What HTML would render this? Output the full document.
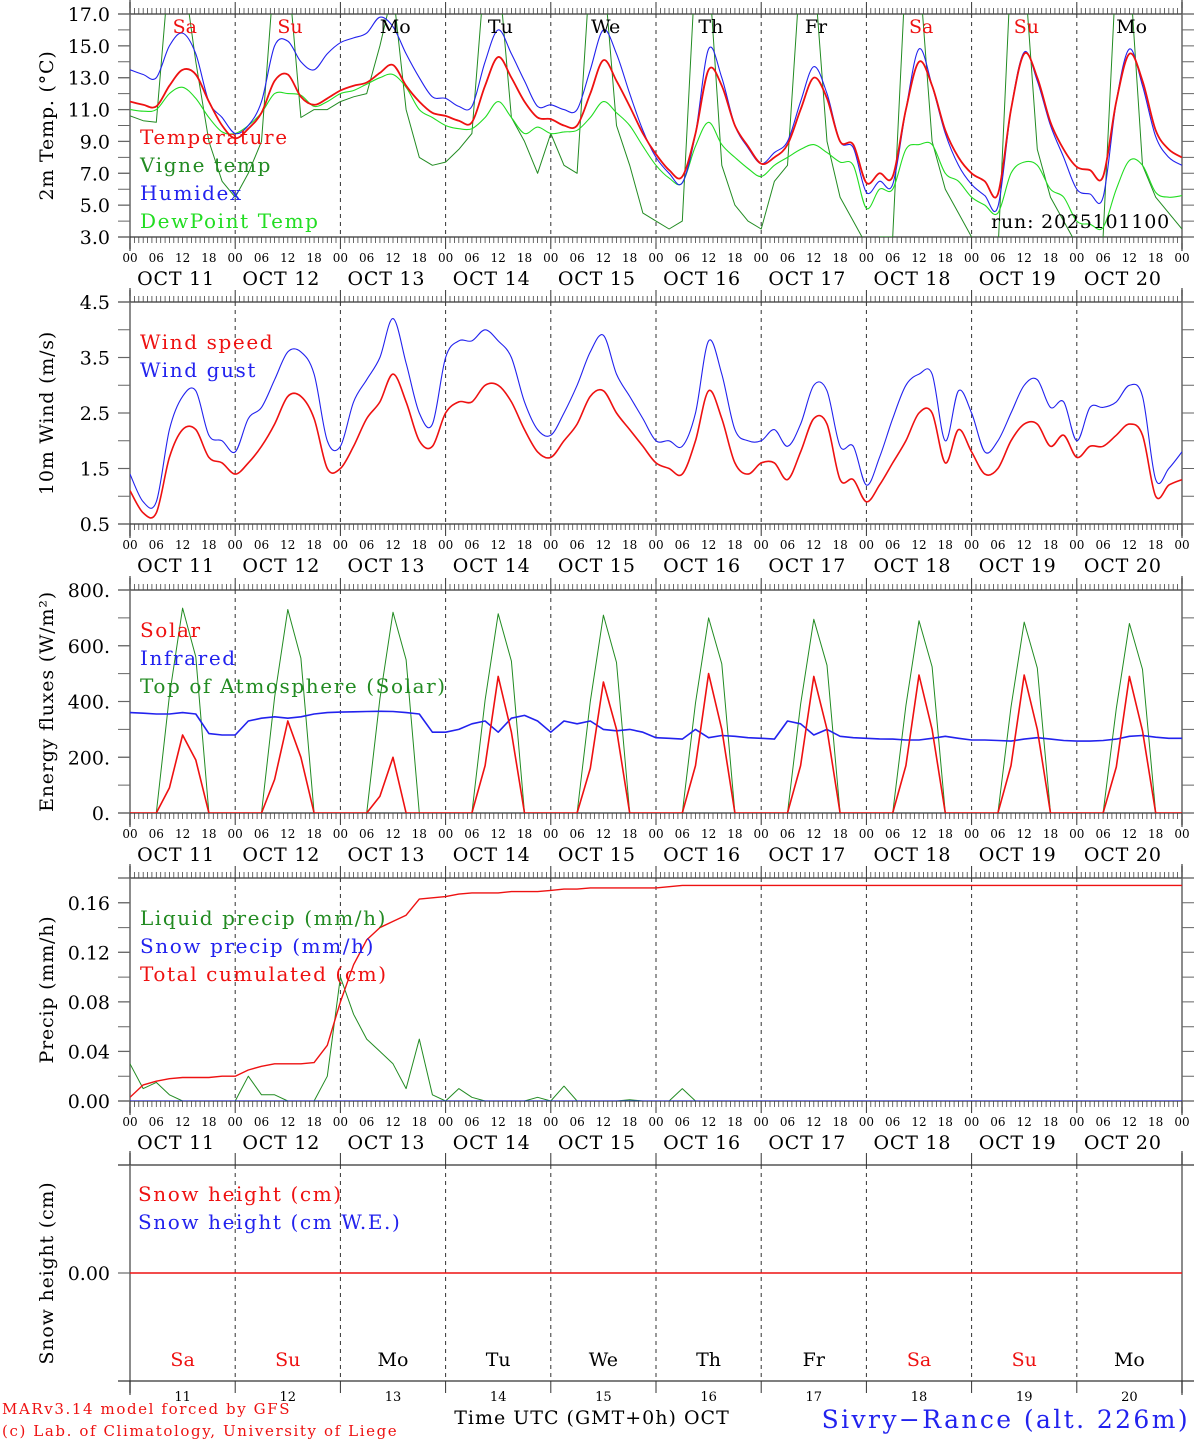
<!DOCTYPE html>
<html><head><meta charset="utf-8">
<style>
html,body{margin:0;padding:0;background:#fff;}
svg{display:block;font-family:"DejaVu Serif","Liberation Serif",serif;}
</style></head>
<body>
<svg id="chart" width="1194" height="1440" viewBox="0 0 1194 1440" xmlns="http://www.w3.org/2000/svg"></svg>
<script>
// ---- data (3-hourly, from 2025-10-11 00 UTC to 2025-10-21 00 UTC) ----
const dayLabels = ["Sa","Su","Mo","Tu","We","Th","Fr","Sa","Su","Mo"];
const dayNums = ["11","12","13","14","15","16","17","18","19","20"];
const hourTicks = ["00","06","12","18"];
const tempVals = [11.5,11.3,11.2,12.5,13.5,13.2,11.5,10.0, 9.2,9.8,10.8,12.8,13.2,11.8,11.3,11.7, 12.2,12.5,12.7,13.3,13.8,12.5,11.5,10.8, 10.6,10.3,10.2,12.5,14.3,13.0,11.5,10.5, 10.4,10.0,10.0,12.0,14.1,12.8,11.2,9.5, 8.2,7.2,6.8,9.5,13.5,12.5,10.0,8.7, 7.6,8.0,8.8,11.0,13.0,11.7,9.0,8.8, 6.4,7.0,6.8,11.0,14.0,12.5,9.7,8.0, 7.0,6.5,5.7,11.0,14.5,13.0,10.2,8.5, 7.4,7.2,6.8,11.5,14.5,12.8,9.7,8.5, 8.0];
const humidexVals = [13.5,13.2,13.0,15.0,15.8,14.5,11.5,10.5, 9.5,10.0,11.5,15.0,15.3,14.0,13.5,14.5, 15.2,15.5,15.8,16.8,16.2,14.5,13.0,11.8, 11.7,11.2,11.2,14.0,16.0,14.5,12.8,11.2, 11.3,11.0,11.0,13.5,16.0,14.5,12.0,9.7, 8.0,7.0,6.4,9.5,14.8,13.0,10.0,8.6, 7.6,8.3,9.0,11.5,13.7,12.0,9.0,8.6, 5.8,6.5,6.3,11.0,14.8,12.5,9.5,7.5, 6.3,5.6,4.9,11.0,14.6,12.8,10.0,8.0, 6.0,5.7,5.5,11.5,14.8,12.5,9.3,8.0, 7.5];
const dewVals = [11.0,10.9,11.0,12.0,12.4,11.7,10.5,9.6, 9.5,10.0,10.8,12.0,12.0,11.9,11.2,11.5, 12.0,12.2,12.6,13.0,13.2,12.4,11.0,10.5, 10.0,9.8,9.8,10.5,11.5,10.5,9.5,9.9, 9.5,9.6,9.7,10.5,11.5,10.8,10.0,8.7, 7.5,6.7,6.4,8.7,10.2,8.8,8.0,7.3, 6.8,7.5,8.0,8.5,8.8,8.3,7.7,7.5, 4.8,6.0,6.0,8.5,8.8,8.8,7.0,6.5, 5.5,5.0,4.5,7.0,7.7,7.5,6.0,5.5, 4.0,3.8,3.6,6.0,7.8,7.5,5.8,5.5, 5.6];
const vigneVals = [10.6,10.3,10.2,20,20,14,9.0,6.5, 5.5,7.0,9.0,20,20,10.5,11.0,11.0, 11.5,11.8,12.0,15.0,18.5,11.0,8.0,7.5, 7.7,8.5,9.5,20,20,10.5,9.0,7.0, 9.5,7.5,7.0,20,20,10.0,7.5,4.5, 4.0,3.5,4.0,20,20,7.5,5.0,4.0, 3.5,6.5,7.5,20,20,9.0,5.5,4.0, 2.5,3.0,3.0,20,20,9.0,6.0,4.5, 3.0,2.0,2.0,20,20,8.5,5.5,4.0, 2.5,2.8,3.0,20,20,7.5,5.5,4.5, 3.5];
const windVals = [1.1,0.7,0.7,1.7,2.2,2.2,1.7,1.6, 1.4,1.6,1.9,2.3,2.8,2.8,2.4,1.5, 1.5,1.9,2.4,2.7,3.2,2.7,2.0,1.9, 2.5,2.7,2.7,3.0,3.0,2.7,2.2,1.8, 1.7,2.0,2.3,2.8,2.9,2.5,2.2,1.9, 1.6,1.5,1.4,2.0,2.9,2.4,1.6,1.4, 1.6,1.6,1.3,1.8,2.4,2.3,1.3,1.3, 0.9,1.2,1.6,2.0,2.5,2.5,1.6,2.2, 1.8,1.4,1.5,2.0,2.3,2.3,1.9,2.1, 1.7,1.9,1.9,2.1,2.3,2.1,1.0,1.2, 1.3];
const gustVals = [1.4,0.9,0.9,2.2,2.8,2.9,2.1,2.0, 1.8,2.4,2.6,3.1,3.6,3.6,3.2,2.0, 1.9,2.7,3.1,3.5,4.2,3.4,2.5,2.3, 3.5,3.8,3.8,4.0,3.8,3.5,2.7,2.2, 2.1,2.5,3.0,3.6,3.9,3.2,2.8,2.4, 2.0,2.0,1.9,2.5,3.8,3.2,2.2,2.0, 2.0,2.2,1.9,2.3,3.0,2.9,1.9,1.9, 1.2,1.7,2.4,3.0,3.2,3.2,2.0,2.9, 2.5,1.8,2.0,2.5,3.0,3.1,2.6,2.7, 2.0,2.6,2.6,2.7,3.0,2.8,1.3,1.5, 1.8];
const solarVals = [0,0,0,90,280,190,0,0, 0,0,0,120,330,200,0,0, 0,0,0,60,200,0,0,0, 0,0,0,170,490,290,0,0, 0,0,0,160,470,300,0,0, 0,0,0,170,500,300,0,0, 0,0,0,170,490,300,0,0, 0,0,0,170,495,300,0,0, 0,0,0,170,495,300,0,0, 0,0,0,165,490,295,0,0, 0];
const toaVals = [0,0,0,420,735,560,0,0, 0,0,0,415,730,555,0,0, 0,0,0,410,720,550,0,0, 0,0,0,405,715,545,0,0, 0,0,0,400,710,540,0,0, 0,0,0,395,700,535,0,0, 0,0,0,390,695,530,0,0, 0,0,0,385,690,525,0,0, 0,0,0,380,685,520,0,0, 0,0,0,375,680,515,0,0, 0];
const irVals = [360,358,355,355,360,355,285,280, 280,330,340,345,340,345,355,360, 362,363,364,365,364,360,355,290, 290,300,320,330,290,340,350,330, 290,330,320,330,300,295,300,290, 270,268,265,300,270,278,275,270, 268,265,330,320,280,300,275,270, 268,266,265,262,262,268,275,268, 262,262,260,258,265,270,265,260, 258,258,260,265,275,278,272,268, 268];
const liquidVals = [0.03,0.01,0.015,0.005,0,0,0,0, 0,0.02,0.005,0.005,0,0,0,0.02, 0.1,0.07,0.05,0.04,0.03,0.01,0.05,0.005, 0,0.01,0.003,0,0,0,0,0.003, 0,0.012,0,0,0,0,0.001,0, 0,0,0.01,0,0,0,0,0, 0,0,0,0,0,0,0,0, 0,0,0,0,0,0,0,0, 0,0,0,0,0,0,0,0, 0,0,0,0,0,0,0,0, 0];
const cumVals = [0.003,0.013,0.016,0.018,0.019,0.019,0.019,0.02, 0.02,0.025,0.028,0.03,0.03,0.03,0.031,0.045, 0.08,0.11,0.13,0.14,0.145,0.15,0.163,0.164, 0.165,0.167,0.168,0.168,0.168,0.169,0.169,0.169, 0.17,0.171,0.171,0.172,0.172,0.172,0.172,0.172, 0.172,0.173,0.174,0.174,0.174,0.174,0.174,0.174, 0.174,0.174,0.174,0.174,0.174,0.174,0.174,0.174, 0.174,0.174,0.174,0.174,0.174,0.174,0.174,0.174, 0.174,0.174,0.174,0.174,0.174,0.174,0.174,0.174, 0.174,0.174,0.174,0.174,0.174,0.174,0.174,0.174, 0.174];
const snowVals = [0,0,0,0,0,0,0,0,0,0,0];
const tempTicks = ["3.0","5.0","7.0","9.0","11.0","13.0","15.0","17.0"];
const windTicks = ["0.5","1.5","2.5","3.5","4.5"];
const energyTicks = ["0.","200.","400.","600.","800."];
const precipTicks = ["0.00","0.04","0.08","0.12","0.16"];

// ---- drawing ----
const NS="http://www.w3.org/2000/svg";
const svg=document.getElementById('chart');
const X0=130,X1=1182,HOURS=240;
function xS(h){return X0+(X1-X0)*h/HOURS;}
function el(tag,attrs,parent){const e=document.createElementNS(NS,tag);for(const k in attrs)e.setAttribute(k,attrs[k]);(parent||svg).appendChild(e);return e;}
function txt(s,x,y,size,fill,anchor,parent,ls){const t=el('text',{x:x,y:y,'font-size':size,fill:fill,'text-anchor':anchor||'start'},parent);if(ls)t.setAttribute('letter-spacing',ls);t.textContent=s;return t;}
function smoothPath(P){
  let d=`M${P[0][0].toFixed(1)},${P[0][1].toFixed(1)}`;
  for(let i=0;i<P.length-1;i++){
    const p0=P[Math.max(0,i-1)],p1=P[i],p2=P[i+1],p3=P[Math.min(P.length-1,i+2)];
    const c1x=p1[0]+(p2[0]-p0[0])/6,c1y=p1[1]+(p2[1]-p0[1])/6;
    const c2x=p2[0]-(p3[0]-p1[0])/6,c2y=p2[1]-(p3[1]-p1[1])/6;
    d+=`C${c1x.toFixed(1)},${c1y.toFixed(1)} ${c2x.toFixed(1)},${c2y.toFixed(1)} ${p2[0].toFixed(1)},${p2[1].toFixed(1)}`;
  }
  return d;
}

function panel(name,top,bot,ymin,ymax,opts){
  const g=el('g',{});
  
  
  const yS=v=>bot-(v-ymin)/(ymax-ymin)*(bot-top);
  el('line',{x1:X0-12,y1:top,x2:X1+12,y2:top,stroke:'#333','stroke-width':1.2},g);
  el('line',{x1:X0,y1:top-14,x2:X0,y2:bot+14,stroke:'#666','stroke-width':1.5},g);
  el('line',{x1:X1,y1:top-14,x2:X1,y2:bot+14,stroke:'#666','stroke-width':1.5},g);
  el('line',{x1:X0-12,y1:bot,x2:X1+12,y2:bot,stroke:'#333','stroke-width':1.2},g);
  for(let d=0;d<=10;d++){
    const x=xS(d*24);
    if(d>0&&d<10) el('line',{x1:x,y1:top,x2:x,y2:bot,stroke:'#333','stroke-width':1,'stroke-dasharray':'4,4'},g);
    el('line',{x1:x,y1:top-12,x2:x,y2:top,stroke:'#333','stroke-width':1},g);
    el('line',{x1:x,y1:bot,x2:x,y2:bot+12,stroke:'#333','stroke-width':1},g);
  }
  if(opts.hourTicks!==false){
    let p='';
    for(let h=0;h<=HOURS;h++){const x=xS(h).toFixed(1);p+=`M${x},${top}v-6M${x},${bot}v6`;}
    el('path',{d:p,stroke:'#444','stroke-width':0.8,fill:'none'},g);
    for(let d=0;d<10;d++){
      for(let k=0;k<4;k++) txt(hourTicks[k],xS(d*24+k*6),bot+25,12,'#000','middle',g);
      txt('OCT '+dayNums[d],xS(d*24+10.5),bot+48,19,'#000','middle',g,0.8);
    }
    txt('00',xS(240),bot+25,12,'#000','middle',g);
  }
  if(opts.minor){let p='';for(let v=ymin;v<=ymax+1e-9;v+=opts.minor){const y=yS(v).toFixed(1);p+=`M${X0-12},${y}h12M${X1},${y}h12`;}el('path',{d:p,stroke:'#666','stroke-width':1,fill:'none'},g);}
  opts.ticks.forEach((lab,i)=>{const v=opts.tickStart+i*opts.tickStep;const y=yS(v);
    el('line',{x1:X0-12,y1:y,x2:X0,y2:y,stroke:'#666','stroke-width':1.2},g);
    txt(lab,110,y+7,19,'#000','end',g);});
  const cy=(top+bot)/2;
  const t=txt(opts.title,0,0,19,'#000','middle',g,0.8);
  t.setAttribute('transform',`translate(53,${cy}) rotate(-90)`);
  
  
  const cid='clip-'+name;
  const cp=el('clipPath',{id:cid},g);el('rect',{x:X0,y:top,width:X1-X0,height:bot-top},cp);
  const sg=el('g',{'clip-path':`url(#${cid})`},g);
  opts.series.forEach(s=>{
    const P=s.vals.map((v,i)=>[xS(i*3),yS(v)]);
    const d=s.smooth?smoothPath(P):'M'+P.map(p=>p[0].toFixed(1)+','+p[1].toFixed(1)).join('L');
    const pl=el('path',{d:d,fill:'none',stroke:s.color,'stroke-width':s.w||1.2,'stroke-linejoin':'round'},sg);
    
    
  });
  opts.legend.forEach((l,i)=>{const t=txt(l[0],opts.legX||140,opts.legY+i*28,20,l[1],'start',g,1.6);
    
    });
  return {g,yS};
}

const p1=panel('temperature',14,237,3,17,{ticks:tempTicks,tickStart:3,tickStep:2,minor:1,title:'2m Temp. (\u00B0C)',
  series:[{vals:vigneVals,color:'#228b22',name:'vigne-temp-line',w:1},{vals:dewVals,color:'#22dd22',name:'dewpoint-line',w:1.1,smooth:1},{vals:humidexVals,color:'#2222ee',name:'humidex-line',w:1.1,smooth:1},{vals:tempVals,color:'#ee1111',name:'temperature-line',w:1.8,smooth:1}],
  legend:[['Temperature','#ee1111'],['Vigne temp','#228b22'],['Humidex','#2222ee'],['DewPoint Temp','#22dd22']],legY:144});
dayLabels.forEach((d,i)=>{const t=txt(d,xS(i*24+12.5),33,19,(d==='Sa'||d==='Su')?'#ee1111':'#000','middle',p1.g);
  
  });
txt('run: 2025101100',1170,228,19,'#000','end',p1.g,0.8);

panel('wind',302,524,0.5,4.5,{ticks:windTicks,tickStart:0.5,tickStep:1,minor:0.5,title:'10m Wind (m/s)',
  series:[{vals:gustVals,color:'#2222ee',name:'wind-gust-line',w:1.1,smooth:1},{vals:windVals,color:'#ee1111',name:'wind-speed-line',w:1.6,smooth:1}],
  legend:[['Wind speed','#ee1111'],['Wind gust','#2222ee']],legY:349});

panel('energy',590,813,0,800,{ticks:energyTicks,tickStart:0,tickStep:200,minor:100,title:'Energy fluxes (W/m\u00B2)',
  series:[{vals:toaVals,color:'#228b22',name:'toa-solar-line',w:1},{vals:irVals,color:'#2222ee',name:'infrared-line',w:1.6},{vals:solarVals,color:'#ee1111',name:'solar-line',w:1.6}],
  legend:[['Solar','#ee1111'],['Infrared','#2222ee'],['Top of Atmosphere (Solar)','#228b22']],legY:637});

panel('precip',878,1101,0,0.18,{ticks:precipTicks,tickStart:0,tickStep:0.04,minor:0.02,title:'Precip (mm/h)',
  series:[{vals:liquidVals,color:'#228b22',name:'liquid-precip-line',w:1},{vals:liquidVals.map(()=>0),color:'#2222ee',name:'snow-precip-line',w:1},{vals:cumVals,color:'#ee1111',name:'cumulated-precip-line',w:1.4}],
  legend:[['Liquid precip (mm/h)','#228b22'],['Snow precip (mm/h)','#2222ee'],['Total cumulated (cm)','#ee1111']],legY:925});

const p5=panel('snow',1165,1381,-1,1,{ticks:['0.00'],tickStart:0,tickStep:1,minor:0,title:'Snow height (cm)',hourTicks:false,
  series:[{vals:snowVals.concat(new Array(70).fill(0)),color:'#ee1111',name:'snow-height-line',w:1.4}],
  legend:[['Snow height (cm)','#ee1111'],['Snow height (cm W.E.)','#2222ee']],legY:1201,legX:138});
dayLabels.forEach((d,i)=>{const t=txt(d,xS(i*24+12),1366,19,(d==='Sa'||d==='Su')?'#ee1111':'#000','middle',p5.g);
  
  
  txt(dayNums[i],xS(i*24+12),1401,13,'#000','middle',p5.g);});

txt('MARv3.14 model forced by GFS',2,1414,15,'#ee1111','start',null,1.6);
txt('(c) Lab. of Climatology, University of Liege',2,1436,15,'#ee1111','start',null,1.6);
const xt=txt('Time UTC (GMT+0h) OCT',592,1424,19,'#000','middle',null,1);


const st=txt('Sivry\u2212Rance (alt. 226m)',1190,1428,25,'#2222ee','end',null,2.4);


</script>
</body></html>
